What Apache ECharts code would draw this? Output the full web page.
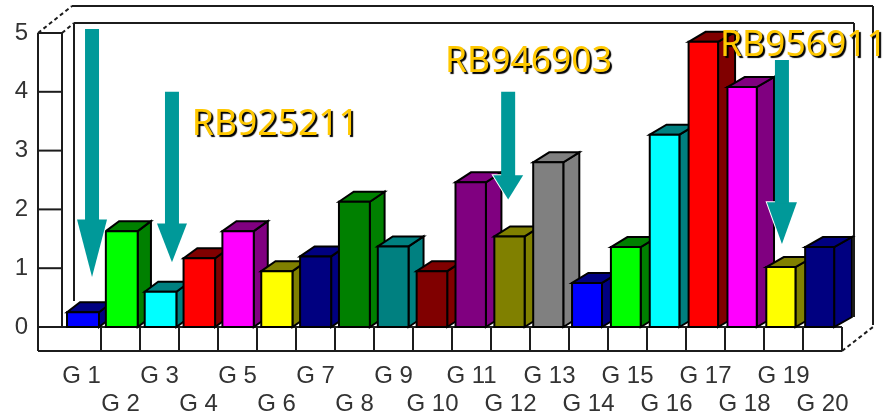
<!DOCTYPE html>
<html>
<head>
<meta charset="utf-8">
<style>html,body{margin:0;padding:0;background:#fff}#chart{width:884px;height:418px}</style>
<script src="https://cdn.jsdelivr.net/npm/echarts@6/dist/echarts.min.js"></script>
</head>
<body>
<div id="chart"></div>
<script>
// Expression level per genotype
const categories = ['G 1','G 2','G 3','G 4','G 5','G 6','G 7','G 8','G 9','G 10','G 11','G 12','G 13','G 14','G 15','G 16','G 17','G 18','G 19','G 20'];
const values = [0.25,1.63,0.6,1.17,1.63,0.95,1.2,2.13,1.37,0.95,2.46,1.54,2.8,0.75,1.36,3.27,4.85,4.08,1.02,1.36];
const yTicks = [0,1,2,3,4,5];
// Palette cycle for the faces of each column
const frontColors = ['#0000ff','#00ff00','#00ffff','#ff0000','#ff00ff','#ffff00','#000080','#008000','#008080','#800000','#800080','#808000','#808080','#0000ff','#00ff00','#00ffff','#ff0000','#ff00ff','#ffff00','#000080'];
const shadeColors = ['#000080','#008000','#008080','#800000','#800080','#808000','#000080','#008000','#008080','#800000','#800080','#808000','#808080','#000080','#008000','#008080','#800000','#800080','#808000','#000080'];
// Callouts: [slot position, shaft top, head base, tip] in axis units
const arrows = [[0.77,5.07,1.83,0.85],[2.82,4.0,1.76,1.10],[11.44,4.0,2.58,2.17],[18.46,4.54,2.12,1.41]];
const calloutNames = ['RB925211','RB946903','RB956911'];
const calloutSlots = [3.33,9.82,16.87];
const calloutLevels = [3.44,4.51,4.78];

const INK = '#1c1c1c';
const TEAL = '#009999';
const GOLD = '#ffc800';
const DEPTH_Y = 10;
const WALL = {left: 24, bottom: 24, backX: 12, backY: 10, outerX: 31, outerY: 27};

function seg(x1, y1, x2, y2, dashed) {
  return {type: 'line', shape: {x1, y1, x2, y2},
    style: {stroke: INK, lineWidth: 2, lineDash: dashed ? [4, 3] : null, fill: null}};
}

// Frame of the 3D chart box: side panel, floor strip and two back rectangles
function renderFrame(params, api) {
  const c = params.coordSys;
  const L = c.x, R = c.x + c.width, T = c.y, B = c.y + c.height;
  const slot = c.width / categories.length;
  const parts = [
    seg(L - WALL.left, T, L, T),
    seg(L - WALL.left, T, L - WALL.left, B + WALL.bottom),
    seg(L, T, L, B),
    seg(L, B, R, B),
    seg(L - WALL.left, B + WALL.bottom, R, B + WALL.bottom),
    seg(L + WALL.backX, T - WALL.backY, R + WALL.backX, T - WALL.backY),
    seg(L + WALL.backX, T - WALL.backY, L + WALL.backX, B - 26),
    seg(R + WALL.backX, T - WALL.backY, R + WALL.backX, B - WALL.backY),
    seg(L - WALL.left + 34, T - WALL.outerY, R + WALL.outerX, T - WALL.outerY),
    seg(R + WALL.outerX, T - WALL.outerY, R + WALL.outerX, B - 2),
    seg(L - WALL.left, T, L - WALL.left + 34, T - WALL.outerY, true),
    seg(L, T, L + WALL.backX, T - WALL.backY, true),
    seg(R, B + WALL.bottom, R + WALL.outerX, B, true)
  ];
  yTicks.forEach(function (t) {
    const y = api.coord([0, t])[1];
    parts.push(seg(L - WALL.left, y, L, y));
  });
  for (let k = 1; k <= categories.length; k++) {
    parts.push(seg(L + slot * k, B, L + slot * k, B + WALL.bottom));
  }
  return {type: 'group', children: parts};
}

function poly(points, fill) {
  return {type: 'polygon', shape: {points},
    style: {fill, stroke: '#000', lineWidth: 2, lineJoin: 'miter'}};
}

// One extruded column: side and top faces first, then the front face
function renderColumn(params, api) {
  const i = api.value(0);
  const top = api.coord([i, api.value(1)]);
  const base = api.coord([i, 0]);
  const slot = api.size([1, 0])[0];
  const width = 32 - 3 * i / 19;
  const depth = 13 + 0.25 * i;
  const x0 = top[0] - slot / 2 + 5 - 0.15 * i;
  const x1 = x0 + width;
  const y = top[1], b = base[1];
  return {type: 'group', children: [
    poly([[x1, y], [x1 + depth, y - DEPTH_Y], [x1 + depth, b - DEPTH_Y], [x1, b]], shadeColors[i]),
    poly([[x0, y], [x0 + depth, y - DEPTH_Y], [x1 + depth, y - DEPTH_Y], [x1, y]], shadeColors[i]),
    poly([[x0, y], [x1, y], [x1, b], [x0, b]], frontColors[i])
  ]};
}

// Down arrow: a white halo under the head keeps it legible over the columns
function renderArrow(params, api) {
  const topPt = api.coord([api.value(0), api.value(1)]);
  const basePt = api.coord([api.value(0), api.value(2)]);
  const tipPt = api.coord([api.value(0), api.value(3)]);
  const x = topPt[0];
  const head = [[x - 15, basePt[1]], [x + 15, basePt[1]], [x, tipPt[1]]];
  return {type: 'group', children: [
    {type: 'polygon', shape: {points: head}, style: {fill: '#fff', stroke: '#fff', lineWidth: 2}},
    {type: 'polygon', shape: {points: head}, style: {fill: TEAL}},
    {type: 'rect', shape: {x: x - 7, y: topPt[1], width: 14, height: basePt[1] - topPt[1] + 1},
      style: {fill: TEAL}}
  ]};
}

function renderCallout(params, api) {
  const p = api.coord([api.value(0), api.value(1)]);
  return {type: 'text', x: p[0], y: p[1],
    style: {text: calloutNames[params.dataIndex], fill: GOLD,
      font: '35.5px "Noto Sans", sans-serif', textAlign: 'left', textVerticalAlign: 'middle',
      textShadowColor: '#000', textShadowBlur: 1, textShadowOffsetX: 2, textShadowOffsetY: 2,
      shadowColor: '#000', shadowBlur: 1, shadowOffsetX: 2, shadowOffsetY: 2}};
}

const chart = echarts.init(document.getElementById('chart'), null, {renderer: 'canvas'});
chart.setOption({
  animation: false,
  backgroundColor: '#fff',
  grid: {left: 62, right: 42, top: 33, bottom: 90},
  xAxis: [
    {type: 'category', data: categories,
      axisLine: {show: false}, axisTick: {show: false}, splitLine: {show: false},
      axisLabel: {
        interval: 0, margin: 35, lineHeight: 28, hideOverlap: false,
        color: '#333', fontFamily: '"Liberation Sans"', fontSize: 24,
        // Even-numbered groups drop onto a second row
        formatter: function (v, idx) { return idx % 2 ? '\n' + v : v; }
      }},
    {type: 'value', min: 0, max: categories.length, show: false}
  ],
  yAxis: {type: 'value', min: 0, max: 5, interval: 1,
    axisLine: {show: false}, axisTick: {show: false}, splitLine: {show: false},
    axisLabel: {margin: 34, color: '#333', fontFamily: '"Liberation Sans"', fontSize: 24}},
  series: [
    {type: 'custom', name: 'frame', xAxisIndex: 0, clip: false, z: 1, silent: true,
      data: [[0, 0]], renderItem: renderFrame},
    {type: 'custom', name: 'level', xAxisIndex: 0, clip: false, z: 2,
      encode: {x: 0, y: 1},
      data: values.map(function (v, i) { return [i, v]; }), renderItem: renderColumn},
    {type: 'custom', name: 'arrows', xAxisIndex: 1, clip: false, z: 3, silent: true,
      data: arrows, renderItem: renderArrow},
    {type: 'custom', name: 'callouts', xAxisIndex: 1, clip: false, z: 4, silent: true,
      data: calloutSlots.map(function (s, i) { return [s, calloutLevels[i]]; }), renderItem: renderCallout}
  ]
});
</script>
</body>
</html>
